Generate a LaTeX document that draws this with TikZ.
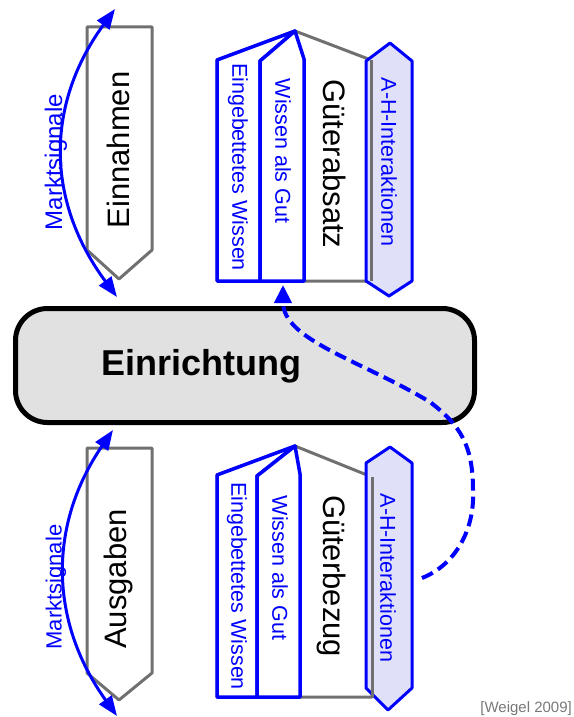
\documentclass[tikz,border=0pt]{standalone}
\usepackage{fontspec}
\setmainfont{Liberation Sans}
\usetikzlibrary{arrows.meta}
\definecolor{shapegray}{RGB}{112,112,112}
\definecolor{knowblue}{RGB}{0,0,255}
\definecolor{ahfill}{RGB}{224,224,248}
\definecolor{boxfill}{RGB}{225,225,225}
\definecolor{citegray}{RGB}{120,120,120}
\tikzset{
  flowshape/.style={draw=shapegray, line width=3pt, fill=white, line join=round},
  flowedge/.style={draw=shapegray, line width=3pt},
  knowshape/.style={draw=knowblue, line width=3.5pt, fill=white, line join=round},
  ahshape/.style={draw=knowblue, line width=3pt, fill=ahfill, line join=round},
  bigtext/.style={font=\fontsize{31}{31}\selectfont, inner sep=0pt},
  smalltext/.style={font=\fontsize{21.5}{21.5}\selectfont, text=knowblue, inner sep=0pt},
  signaltext/.style={text=knowblue, inner sep=0pt},
  signal/.style={draw=knowblue, line width=3pt,
    {Triangle[length=20pt,width=15pt]}-{Triangle[length=20pt,width=15pt]}},
  feedback/.style={draw=knowblue, line width=4pt, dash pattern=on 12pt off 6pt,
    -{Triangle[length=18pt,width=17pt]}},
  corebox/.style={draw=black, line width=5pt, rounded corners=32pt, fill=boxfill,
    inner sep=0pt},
}
\begin{document}
\begin{tikzpicture}[x=1pt, y=-1pt]
\useasboundingbox (0,0) rectangle (573,717);

% ---------- revenue side (top) ----------
\draw[flowshape] (87,27) -- (152,27) -- (152,250) -- (119,279) -- (87,250) -- cycle;
\node[bigtext, rotate=90] (einnahmen) at (118,150) {Einnahmen};
\coordinate (sigA-top) at (115,9);
\coordinate (sigA-bot) at (117,297);
\draw[signal] (sigA-top) .. controls (45,105) and (46,201) .. (sigA-bot);
\node[signaltext, font=\fontsize{24}{24}\selectfont, rotate=90] (sigA) at (56,162) {Marktsignale};

% goods sold
\draw[flowshape] (217,281) -- (217,60) -- (295,31) -- (371,60) -- (371,281) -- cycle;
\draw[ahshape] (390,43) -- (412,61) -- (412,281) -- (389,296) -- (366,281) -- (366,61) -- cycle;
\draw[flowedge] (371,60) -- (371,281);
\draw[knowshape] (217,281) -- (217,60) -- (295,31) -- (260,61) -- (260,281) -- cycle;
\draw[knowshape] (260,281) -- (260,61) -- (295,31) -- (304,59) -- (304,281) -- cycle;
\node[smalltext, rotate=-90] (embA) at (238,167) {Eingebettetes Wissen};
\node[smalltext, rotate=-90] (wagA) at (283,151) {Wissen als Gut};
\node[bigtext, rotate=-90] (absatz) at (335,164) {Güterabsatz};
\node[smalltext, rotate=-90] (ahA) at (389,162) {A-H-Interaktionen};
\coordinate (wagA-bot) at (283,285);

% ---------- the organisation ----------
\node[corebox, minimum width=459pt, minimum height=114pt] (einr) at (245,365.5) {};
\node[font=\fontsize{36}{36}\selectfont\bfseries, inner sep=0pt, anchor=base]
  (einr-label) at (201,375) {Einrichtung};

% ---------- expense side (bottom) ----------
\draw[flowshape] (87,448) -- (152,448) -- (152,673) -- (119,700) -- (87,673) -- cycle;
\node[bigtext, rotate=90] (ausgaben) at (118,579) {Ausgaben};
\coordinate (sigB-top) at (113,430);
\coordinate (sigB-bot) at (117,716);
\draw[signal] (sigB-top) .. controls (48,525) and (49,621) .. (sigB-bot);
\node[signaltext, font=\fontsize{22}{22}\selectfont, rotate=90] (sigB) at (56,587) {Marktsignale};

% goods purchased
\draw[flowshape] (217,697) -- (217,475) -- (295,446) -- (372,477) -- (372,697) -- cycle;
\draw[ahshape] (390,447) -- (412,463) -- (412,688) -- (388,710) -- (366,688) -- (366,463) -- cycle;
\draw[flowedge] (372,477) -- (372,697);
\draw[knowshape] (217,697) -- (217,475) -- (295,446) -- (257,476) -- (257,697) -- cycle;
\draw[knowshape] (257,697) -- (257,476) -- (295,446) -- (300,474) -- (300,697) -- cycle;
\node[smalltext, rotate=-90] (embB) at (237,586) {Eingebettetes Wissen};
\node[smalltext, rotate=-90] (wagB) at (280,568) {Wissen als Gut};
\node[bigtext, rotate=-90] (bezug) at (332,576) {Güterbezug};
\node[smalltext, rotate=-90] (ahB) at (388,578) {A-H-Interaktionen};
\coordinate (ahB-out) at (422,578);

% knowledge feedback from purchasing interactions to goods sold
\draw[feedback] (ahB-out) .. controls (455,565) and (475,530) .. (473,490)
  .. controls (473,445) and (460,425) .. (430,402)
  .. controls (360,360) and (283,340) .. (wagA-bot);

% source
\node[font=\fontsize{15}{15}\selectfont, text=citegray, inner sep=0pt, anchor=east]
  (cite) at (572,709) {[Weigel 2009]};
\end{tikzpicture}
\end{document}
